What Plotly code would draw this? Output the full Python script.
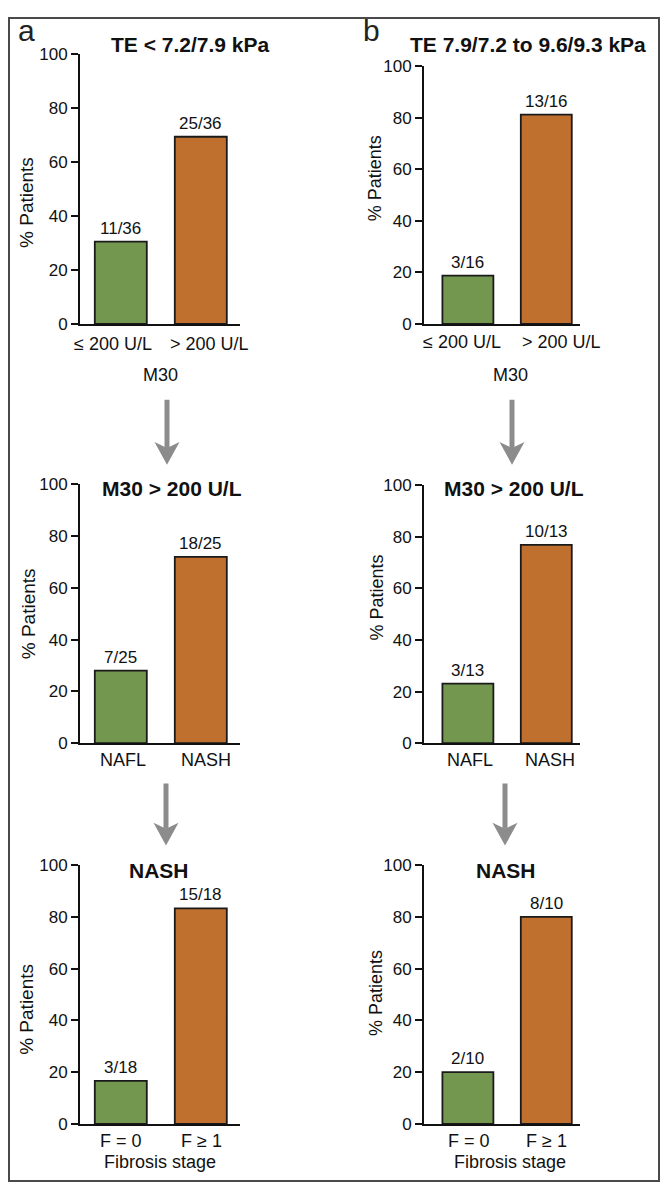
import plotly.graph_objects as go

FONT = 'Liberation Sans, Arial, sans-serif'
# the page adds an 8px body margin on each side, so the figure is 16px smaller
OFF = 8
W, H = 668 - 2 * OFF, 1200 - 2 * OFF
GREEN = '#74974f'
ORANGE = '#c0702e'

# panel titles (column a then column b, top to bottom)
titles = ['TE < 7.2/7.9 kPa', 'M30 > 200 U/L', 'NASH',
          'TE 7.9/7.2 to 9.6/9.3 kPa', 'M30 > 200 U/L', 'NASH']

# categories per row
cats_m30 = ['≤ 200 U/L', '> 200 U/L']
cats_hist = ['NAFL', 'NASH']
cats_fib = ['F = 0', 'F ≥ 1']

# patient counts
a_m30_n = [11, 25]
a_m30_total = 36
a_hist_n = [7, 18]
a_hist_total = 25
a_fib_n = [3, 15]
a_fib_total = 18
b_m30_n = [3, 13]
b_m30_total = 16
b_hist_n = [3, 10]
b_hist_total = 13
b_fib_n = [2, 8]
b_fib_total = 10

xtitles = ['M30', None, 'Fibrosis stage', 'M30', None, 'Fibrosis stage']

panels = [
    (cats_m30, a_m30_n, a_m30_total),
    (cats_hist, a_hist_n, a_hist_total),
    (cats_fib, a_fib_n, a_fib_total),
    (cats_m30, b_m30_n, b_m30_total),
    (cats_hist, b_hist_n, b_hist_total),
    (cats_fib, b_fib_n, b_fib_total),
]

# layout in page pixels: x0, x1, ytop, ybottom, xrange, title(cx, cy), ytitle(cx, cy),
# category label offset below axis, category label x shifts
geom = [
    (80, 240, 46, 320, [-0.51, 1.49], (190, 36), (27, 197), 20, (-8, 9)),
    (80, 240, 483, 746, [-0.51, 1.49], (172, 487), (28, 615), 17, (2, 5)),
    (80, 240, 870, 1133, [-0.51, 1.49], (159, 875), (27, 1017), 17, (0, 1)),
    (424, 580, 58, 320, [-0.56, 1.43], (528, 36), (375, 172), 18, (-6, 15)),
    (424, 580, 484, 746, [-0.56, 1.43], (514, 487), (377, 598), 17, (2, 4)),
    (424, 580, 870, 1133, [-0.56, 1.43], (506, 875), (376, 1000), 17, (1, 0)),
]


def px(x):
    return (x - OFF) / W


def py(y):
    return 1 - (y - OFF) / H


fig = go.Figure()
annotations = []
layout = {}

for i, ((cats, counts, total), g) in enumerate(zip(panels, geom)):
    s = '' if i == 0 else str(i + 1)
    x0, x1, yt, yb, xr, tpos, ytpos, lab_off, lab_dx = g
    pct = [c / total * 100 for c in counts]

    fig.add_trace(go.Bar(
        x=cats, y=pct, width=0.65,
        marker=dict(color=[GREEN, ORANGE], line=dict(color='#1a1a1a', width=1.8)),
        xaxis='x' + s, yaxis='y' + s, showlegend=False, hoverinfo='skip',
    ))

    for c, n, p, dx in zip(cats, counts, pct, lab_dx):
        annotations.append(dict(
            x=c, y=p, xref='x' + s, yref='y' + s, text=f'{n}/{total}',
            showarrow=False, xanchor='center', yanchor='bottom', yshift=2,
            font=dict(family=FONT, size=17, color='#111'),
        ))
        # category label under the axis
        annotations.append(dict(
            x=c, y=py(yb + lab_off), xref='x' + s, yref='paper', text=c,
            showarrow=False, xanchor='center', yanchor='middle', xshift=dx,
            font=dict(family=FONT, size=18, color='#111'),
        ))

    layout['xaxis' + s] = dict(
        domain=[px(x0), px(x1)], range=xr, type='category', anchor='y' + s,
        showline=True, linecolor='#111', linewidth=2, ticks='',
        showticklabels=False, showgrid=False, zeroline=False,
    )
    layout['yaxis' + s] = dict(
        domain=[py(yb), py(yt)], range=[0, 100], anchor='x' + s,
        tickvals=[0, 20, 40, 60, 80, 100], ticks='outside', ticklen=7,
        tickwidth=1.5, tickcolor='#111', showline=True, linecolor='#111',
        linewidth=2, showgrid=False, zeroline=False,
        tickfont=dict(family=FONT, size=17, color='#111'),
    )

    annotations.append(dict(
        x=px(tpos[0]), y=py(tpos[1]), xref='paper', yref='paper',
        xanchor='center', yanchor='middle',
        text='<b>' + titles[i] + '</b>', showarrow=False,
        font=dict(family=FONT, size=21, color='#111'),
    ))
    annotations.append(dict(
        x=px(ytpos[0]), y=py(ytpos[1]), xref='paper', yref='paper',
        xanchor='center', yanchor='middle',
        text='% Patients', textangle=-90, showarrow=False,
        font=dict(family=FONT, size=19 if i < 3 else 18, color='#111'),
    ))
    if xtitles[i]:
        off = 52 if xtitles[i] == 'M30' else 39
        annotations.append(dict(
            x=0.5, y=py(yb + off), xref='x' + s + ' domain', yref='paper',
            xanchor='center', yanchor='middle', xshift=0 if i < 3 else 8,
            text=xtitles[i], showarrow=False,
            font=dict(family=FONT, size=18, color='#111'),
        ))

# panel letters
for letter, cx in [('a', 26), ('b', 371)]:
    annotations.append(dict(
        x=px(cx), y=py(22), xref='paper', yref='paper', text=letter,
        xanchor='center', yanchor='middle',
        showarrow=False, font=dict(family=FONT, size=30, color='#222'),
    ))

# flow arrows between rows (page pixels)
arrows = [(167, 397, 463), (512, 397, 463), (166, 787, 850), (505, 787, 850)]
shapes = []
for ax, ytop, ytip in arrows:
    head = 23
    half = 12.5
    notch = 6
    shapes.append(dict(
        type='line', xref='paper', yref='paper',
        x0=px(ax), x1=px(ax), y0=py(ytop), y1=py(ytip - head + notch),
        line=dict(color='#8c8c8c', width=5),
    ))
    path = (f'M {px(ax)},{py(ytip)} L {px(ax - half)},{py(ytip - head)} '
            f'L {px(ax)},{py(ytip - head + notch)} L {px(ax + half)},{py(ytip - head)} Z')
    shapes.append(dict(
        type='path', xref='paper', yref='paper', path=path,
        fillcolor='#8c8c8c', line=dict(width=0),
    ))

# outer frame, as close to the page edge as the figure allows
shapes.append(dict(
    type='rect', xref='paper', yref='paper',
    x0=1 / W, x1=1 - 1 / W, y0=1 / H, y1=1 - 1 / H,
    line=dict(color='#4a4a4a', width=2), fillcolor='rgba(0,0,0,0)',
))

fig.update_layout(
    width=W, height=H, margin=dict(l=0, r=0, t=0, b=0),
    paper_bgcolor='white', plot_bgcolor='white',
    font=dict(family=FONT, color='#111'),
    annotations=annotations, shapes=shapes,
    **layout,
)

fig.write_html('out.html')
